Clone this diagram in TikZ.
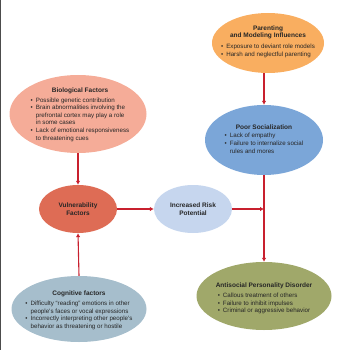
\documentclass[tikz,border=0pt]{standalone}
\usepackage{fontspec}
\setmainfont{Liberation Sans}
\usepackage{xcolor}
\usetikzlibrary{arrows.meta,shapes.geometric}
\definecolor{arrowred}{RGB}{200,32,46}
\definecolor{parentcol}{RGB}{249,174,96}
\definecolor{biocol}{RGB}{245,172,152}
\definecolor{socialcol}{RGB}{123,166,216}
\definecolor{vulncol}{RGB}{222,108,85}
\definecolor{riskcol}{RGB}{198,214,238}
\definecolor{cogcol}{RGB}{166,190,204}
\definecolor{aspcol}{RGB}{160,168,106}
\newcommand{\bl}{\textbullet}
\newcommand{\ttl}[1]{{\fontsize{6.5}{7.8}\selectfont\textbf{#1}}}

\begin{document}
\begin{tikzpicture}[x=1pt,y=-1pt,>=Latex,
  bubble/.style={ellipse,inner sep=0pt,draw=none},
  txt/.style={text=black!85,font=\fontsize{6.2}{7.6}\selectfont,align=center,inner sep=0pt},
  link/.style={draw=arrowred,line width=1.1pt,-{Latex[length=4pt,width=4.5pt]}}]
\useasboundingbox (0,0) rectangle (341,350);
\draw[black!70,line width=1.2pt] (0.6,0)--(0.6,350);
% ellipses
\node[bubble,fill=parentcol,minimum width=112pt,minimum height=60pt] (paren) at (268,43) {};
\node[bubble,fill=biocol,minimum width=137pt,minimum height=78pt] (bio) at (78,114) {};
\node[bubble,fill=socialcol,minimum width=118pt,minimum height=70pt] (social) at (264,140) {};
\node[bubble,fill=vulncol,minimum width=78pt,minimum height=48pt] (vuln) at (78,209) {};
\node[bubble,fill=riskcol,minimum width=78pt,minimum height=48pt] (risk) at (193,209) {};
\node[bubble,fill=cogcol,minimum width=135pt,minimum height=66pt] (cog) at (79,309) {};
\node[bubble,fill=aspcol,minimum width=135pt,minimum height=68pt] (asp) at (264,296) {};
% texts
\node[txt] (parentxt) at (268,42) {\ttl{Parenting}\\\ttl{and Modeling Influences}\\[3pt]
  \begin{tabular}{@{}l@{\hspace{3pt}}l@{}}\bl & Exposure to deviant role models\\ \bl & Harsh and neglectful parenting\end{tabular}};
\node[txt] (biotxt) at (80,115) {\ttl{Biological Factors}\\[2pt]
  \begin{tabular}{@{}l@{\hspace{3pt}}l@{}}\bl & Possible genetic contribution\\ \bl & Brain abnormalities involving the\\ & prefrontal cortex may play a role\\ & in some cases\\ \bl & Lack of emotional responsiveness\\ & to threatening cues\end{tabular}};
\node[txt] (socialtxt) at (264,140) {\ttl{Poor Socialization}\\[2pt]
  \begin{tabular}{@{}l@{\hspace{3pt}}l@{}}\bl & Lack of empathy\\ \bl & Failure to internalize social\\ & rules and mores\end{tabular}};
\node[txt] (vulntxt) at (78,209) {\ttl{Vulnerability}\\\ttl{Factors}};
\node[txt] (risktxt) at (193,209) {\ttl{Increased Risk}\\\ttl{Potential}};
\node[txt] (cogtxt) at (79,311) {\ttl{Cognitive factors}\\[2pt]
  \begin{tabular}{@{}l@{\hspace{3pt}}l@{}}\bl & Difficulty ``reading'' emotions in other\\ & people's faces or vocal expressions\\ \bl & Incorrectly interpreting other people's\\ & behavior as threatening or hostile\end{tabular}};
\node[txt] (asptxt) at (264,299) {\ttl{Antisocial Personality Disorder}\\[2pt]
  \begin{tabular}{@{}l@{\hspace{3pt}}l@{}}\bl & Callous treatment of others\\ \bl & Failure to inhibit impulses\\ \bl & Criminal or aggressive behavior\end{tabular}};
% connectors
\coordinate (join) at (social.south |- risk.east);
\draw[link] (paren.south -| social.north) -- (social.north);
\draw[link] (bio.south) -- (vuln.north);
\draw[link] (cog.north) -- (vuln.south);
\draw[link] (vuln.east) -- (risk.west);
\draw[link] (risk.east) -- (join);
\draw[link] (social.south) -- (asp.north);
\end{tikzpicture}
\end{document}
